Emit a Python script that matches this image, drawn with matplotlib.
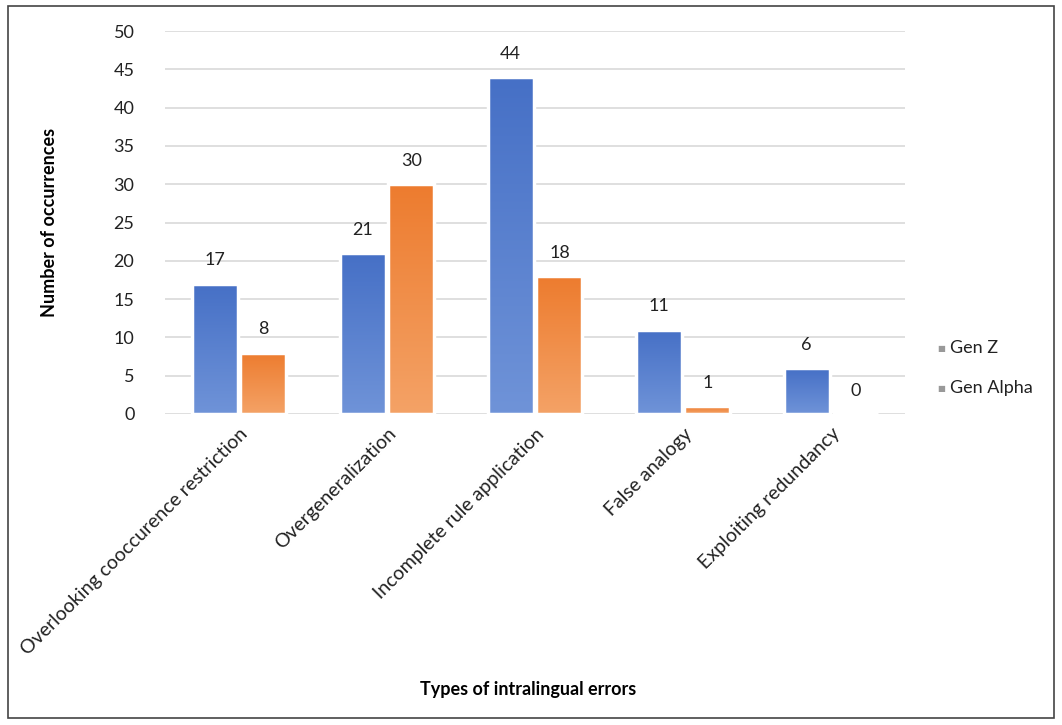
import matplotlib.pyplot as plt
import numpy as np
from matplotlib.colors import LinearSegmentedColormap
from matplotlib.patches import Rectangle

plt.rcParams['font.family'] = ['Lato', 'DejaVu Sans']

categories = ['Overlooking cooccurence restriction', 'Overgeneralization',
              'Incomplete rule application', 'False analogy', 'Exploiting redundancy']
gen_z = [17, 21, 44, 11, 6]
gen_alpha = [8, 30, 18, 1, 0]
series_names = ['Gen Z', 'Gen Alpha']

fig = plt.figure(figsize=(10.62, 7.25), dpi=100)
ax = fig.add_axes([165 / 1062, 1 - 414 / 725, 740 / 1062, 383 / 725])

x = np.arange(len(categories))
w = 0.31
gap = 0.01

blue_map = LinearSegmentedColormap.from_list('b', ['#4670c6', '#6f93d8'])
orange_map = LinearSegmentedColormap.from_list('o', ['#ed7c2f', '#f4a266'])
grad = np.linspace(0, 1, 64).reshape(-1, 1)


def draw_bars(xs, vals, cmap):
    bars = ax.bar(xs, vals, w, color='none', edgecolor='white', linewidth=2.5, zorder=3)
    for b in bars:
        h = b.get_height()
        if h <= 0:
            continue
        x0 = b.get_x()
        im = ax.imshow(grad, cmap=cmap, aspect='auto', origin='upper',
                       extent=(x0, x0 + w, 0, h), zorder=2, interpolation='bicubic')
        clip = Rectangle((x0, 0), w, h, transform=ax.transData)
        im.set_clip_path(clip)
    return bars


bz = draw_bars(x - w / 2 - gap, gen_z, blue_map)
ba = draw_bars(x + w / 2 + gap, gen_alpha, orange_map)

for xs, vals in ((x - w / 2 - gap, gen_z), (x + w / 2 + gap, gen_alpha)):
    for xi, v in zip(xs, vals):
        ax.text(xi, v + 2.0, str(v), ha='center', va='bottom', fontsize=13,
                color='#222222', zorder=4)

ax.set_xlim(-0.5, len(categories) - 0.5)
ax.set_ylim(0, 50)
ax.set_yticks(np.arange(0, 51, 5))
ax.yaxis.grid(True, color='#d9d9d9', linewidth=1.2, zorder=0)
ax.set_axisbelow(True)
for s in ax.spines.values():
    s.set_visible(False)
ax.tick_params(axis='both', length=0, labelsize=13, colors='#222222')
ax.tick_params(axis='y', pad=22)
ax.set_xticks(x)
ax.set_xticklabels(categories, rotation=45, ha='right', rotation_mode='anchor',
                   fontsize=14)
ax.tick_params(axis='x', pad=8)

ax.set_ylabel('Number of occurrences', fontsize=13, fontweight='bold', labelpad=40)
fig.text(528 / 1062, 1 - 690 / 725, 'Types of intralingual errors', ha='center',
         va='center', fontsize=13, fontweight='bold')

# legend with small grey markers
for i, name in enumerate(series_names):
    yy = 1 - (348 + 40 * i) / 725
    fig.text(941 / 1062, yy, '\u25A0', fontsize=6, color='#999999', ha='center', va='center')
    fig.text(950 / 1062, yy, name, fontsize=13, color='#222222', ha='left', va='center')

fig.patches.append(Rectangle((8 / 1062, 1 - 718 / 725), 1046 / 1062, 712 / 725,
                             transform=fig.transFigure, fill=False,
                             edgecolor='#444444', linewidth=1.2))

fig.savefig('out.png', dpi=100)
